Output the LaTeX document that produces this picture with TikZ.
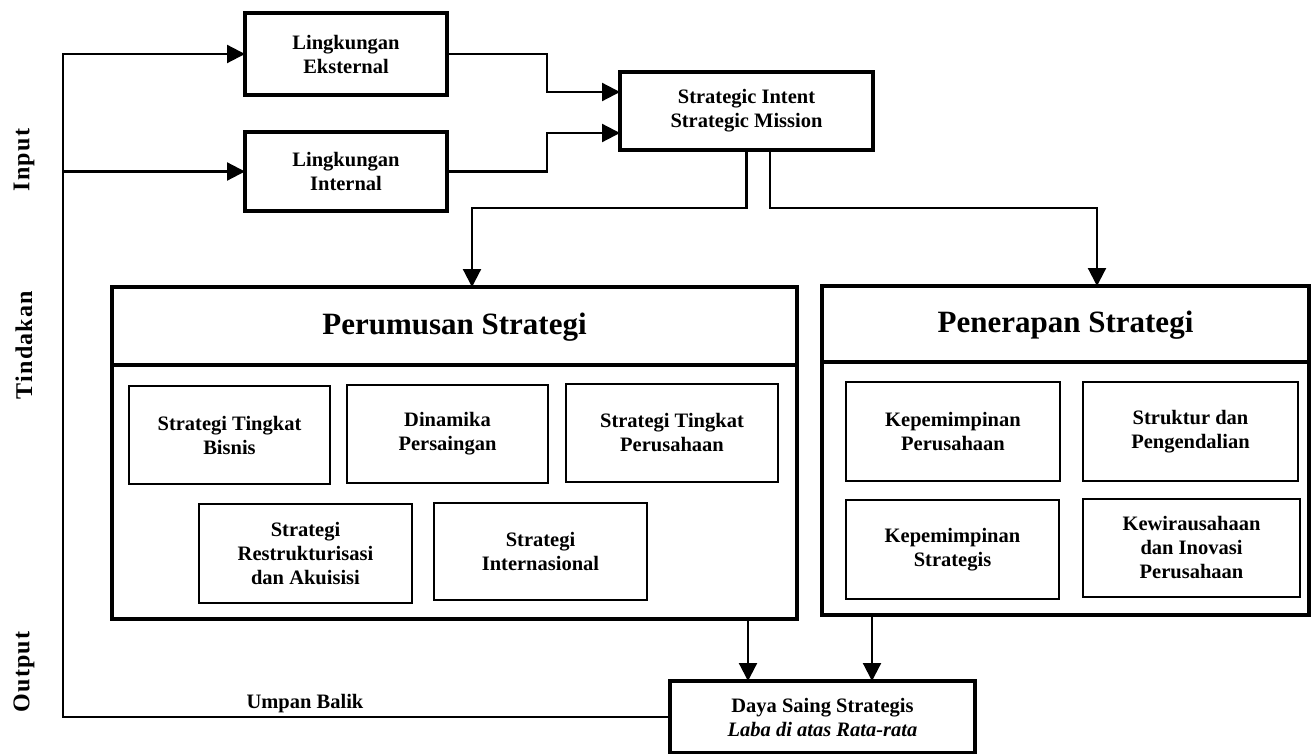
\documentclass[tikz,border=0pt]{standalone}
\usepackage{fontspec}
\setmainfont{Liberation Serif}
\usetikzlibrary{arrows.meta,calc}
\newcommand{\bx}{\bfseries\fontsize{20.5}{24}\selectfont}
\newcommand{\ttl}{\bfseries\fontsize{31}{36}\selectfont}
\newcommand{\lbl}{\addfontfeatures{LetterSpace=5}\bfseries\fontsize{24}{26}\selectfont}
\begin{document}
\begin{tikzpicture}[x=1pt,y=-1pt,
  thickbox/.style={draw, line width=3.2pt, inner sep=0pt, outer sep=0pt, align=center, font=\bx},
  thinbox/.style={draw, line width=2pt, inner sep=0pt, outer sep=0pt, align=center, font=\bx},
  conn/.style={line width=2.2pt},
  arr/.style={conn, -{Triangle[length=18pt,width=18pt]}},
  sidelbl/.style={rotate=90, font=\lbl}]
\useasboundingbox (0,0) rectangle (1314,754);

% side labels
\node[sidelbl] (linput) at (24,160) {Input};
\node[sidelbl] (ltind) at (24,345) {Tindakan};
\node[sidelbl] (lout) at (24,672) {Output};

% input boxes
\node[thickbox, minimum width=202pt, minimum height=82pt] (ext) at (346,54) {Lingkungan\\Eksternal};
\node[thickbox, minimum width=202pt, minimum height=79pt] (int) at (346,171.5) {Lingkungan\\Internal};
\node[thickbox, minimum width=253pt, minimum height=78pt] (si) at (746.5,111) {Strategic Intent\\Strategic Mission};

% main containers
\node[thickbox, minimum width=685pt, minimum height=332pt] (per) at (454.5,453) {};
\node[thickbox, minimum width=487pt, minimum height=329pt] (pen) at (1065.5,450.5) {};
\coordinate (perdiv) at (0,365);
\coordinate (pendiv) at (0,362);
\draw[line width=3.2pt] (per.west |- perdiv) -- (per.east |- perdiv);
\draw[line width=3.2pt] (pen.west |- pendiv) -- (pen.east |- pendiv);
\node[font=\ttl] (pertitle) at (454.5,327) {Perumusan Strategi};
\node[font=\ttl] (pentitle) at (1065.5,325) {Penerapan Strategi};

% Perumusan inner boxes
\node[thinbox, minimum width=201pt, minimum height=98pt] (p1) at (229.5,435) {Strategi Tingkat\\Bisnis};
\node[thinbox, minimum width=201pt, minimum height=98pt] (p2) at (447.5,434) {Dinamika\\Persaingan};
\node[thinbox, minimum width=212pt, minimum height=98pt] (p3) at (672,433) {Strategi Tingkat\\Perusahaan};
\node[thinbox, minimum width=213pt, minimum height=99pt] (p4) at (305.5,553.5) {Strategi\\Restrukturisasi\\dan Akuisisi};
\node[thinbox, minimum width=213pt, minimum height=97pt] (p5) at (540.5,551.5) {Strategi\\Internasional};

% Penerapan inner boxes
\node[thinbox, minimum width=214pt, minimum height=99pt] (q1) at (953,431.5) {Kepemimpinan\\Perusahaan};
\node[thinbox, minimum width=215pt, minimum height=99pt] (q2) at (1190.5,431.5) {Struktur dan\\Pengendalian};
\node[thinbox, minimum width=213pt, minimum height=99pt] (q3) at (952.5,549.5) {Kepemimpinan\\Strategis};
\node[thinbox, minimum width=217pt, minimum height=98pt] (q4) at (1191.5,548) {Kewirausahaan\\dan Inovasi\\Perusahaan};

% output box
\node[thickbox, minimum width=305pt, minimum height=72pt] (ds) at (822.5,717) {Daya Saing Strategis\\\textit{Laba di atas Rata-rata}};

% feedback label
\node[font=\bx] (ub) at (305,704) {Umpan Balik};

% coordinates
\coordinate (fbtop) at (63,54);
\coordinate (fbint) at (63,171.5);
\coordinate (bendx) at (547,0);
\coordinate (mid) at (0,208);

% feedback loop and inputs
\draw[arr] (ds.west) -| (fbtop) -- (ext.west);
\draw[arr] (fbint) -- (int.west);

% to strategic intent
\draw[arr] (ext.east) -- (ext.east -| bendx) |- ([yshift=19pt]si.west);
\draw[arr] (int.east) -- (int.east -| bendx) |- ([yshift=-22pt]si.west);

% strategic intent to formulation / implementation
\draw[arr] (si.south) |- ([xshift=17.5pt]per.north |- mid) -- ([xshift=17.5pt]per.north);
\draw[arr] ([xshift=23.5pt]si.south) |- ([xshift=31.5pt]pen.north |- mid) -- ([xshift=31.5pt]pen.north);

% to output
\draw[arr] ([xshift=-74.5pt]ds.north |- per.south) -- ([xshift=-74.5pt]ds.north);
\draw[arr] ([xshift=49.5pt]ds.north |- pen.south) -- ([xshift=49.5pt]ds.north);
\end{tikzpicture}
\end{document}
